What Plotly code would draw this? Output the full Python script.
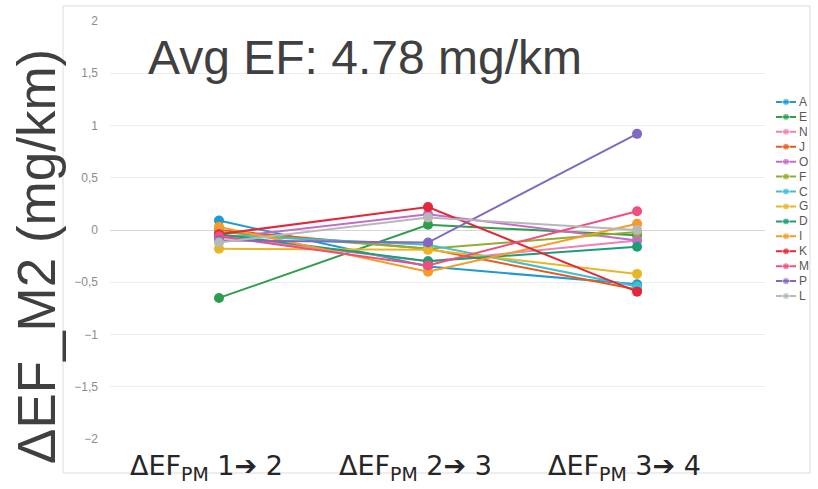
import plotly.graph_objects as go

categories = ["ΔEF<sub>PM</sub> 1➔ 2", "ΔEF<sub>PM</sub> 2➔ 3", "ΔEF<sub>PM</sub> 3➔ 4"]
series_names = ["A", "E", "N", "J", "O", "F", "C", "G", "D", "I", "K", "M", "P", "L"]
A = [0.09, -0.35, -0.52]
E = [-0.65, 0.05, -0.05]
N = [-0.06, -0.30, -0.10]
J = [0.00, -0.18, -0.57]
O = [-0.08, 0.15, -0.10]
F = [-0.02, -0.18, -0.02]
C = [-0.05, -0.14, -0.54]
G = [-0.18, -0.19, -0.42]
D = [-0.04, -0.30, -0.16]
I = [0.03, -0.40, 0.06]
K = [-0.04, 0.22, -0.59]
M = [-0.06, -0.34, 0.18]
P = [-0.10, -0.12, 0.92]
L = [-0.12, 0.12, 0.00]
series_values = [A, E, N, J, O, F, C, G, D, I, K, M, P, L]
colors = ["#1f9bd1", "#2f9e4c", "#f27fb8", "#e85a1e", "#c56cc9", "#8fae2e", "#3ec0d0",
          "#e8b625", "#1b9e78", "#f39c2c", "#e3283a", "#ee4f7e", "#8069c2", "#b8b8b8"]
y_ticks = [2, 1.5, 1, 0.5, 0, -0.5, -1, -1.5, -2]

W, H = 818, 489
FONT = "Liberation Sans, Arial, sans-serif"

fig = go.Figure()
for name, vals, col in zip(series_names, series_values, colors):
    fig.add_trace(go.Scatter(
        x=categories, y=vals, name=name, mode="lines+markers",
        line=dict(color=col, width=2), marker=dict(color=col, size=10),
        showlegend=False, xaxis="x", yaxis="y"))

px = lambda v: v / W
py = lambda v: 1 - v / H

# category labels (slightly left of the points, as in the reference)
for cat in categories:
    fig.add_annotation(x=cat, y=py(467), xref="x", yref="paper", text=cat, showarrow=False,
                       xanchor="center", yanchor="middle", xshift=-13,
                       font=dict(family="DejaVu Sans, sans-serif", size=27, color="#262626"))

# custom compact legend
for i, (name, col) in enumerate(zip(series_names, colors)):
    fig.add_trace(go.Scatter(
        x=[0, 0.5, 1], y=[i, i, i], mode="lines+markers",
        line=dict(color=col, width=2), marker=dict(color=col, size=[0, 7, 0]),
        showlegend=False, xaxis="x2", yaxis="y2", hoverinfo="skip"))
    fig.add_annotation(x=px(797), y=i, xref="paper", yref="y2", text=name, showarrow=False,
                       xanchor="left", yanchor="middle",
                       font=dict(family=FONT, size=12, color="#595959"))

fig.update_layout(
    width=W, height=H, margin=dict(l=0, r=0, t=0, b=0),
    paper_bgcolor="white", plot_bgcolor="white",
    separators=",.",
    xaxis=dict(domain=[px(110), px(765)], type="category", range=[-0.5215, 2.612],
               automargin=False, showticklabels=False,
               showgrid=False, zeroline=False, showline=False, ticks=""),
    yaxis=dict(domain=[py(439), py(21)], range=[-2, 2], tickvals=y_ticks,
               automargin=False,
               showgrid=True, gridcolor="#ededed", gridwidth=1,
               zeroline=True, zerolinecolor="#d6d6d6", zerolinewidth=1,
               showline=False, ticks="",
               tickfont=dict(family=FONT, size=12, color="#8c8c8c"), ticklabelstandoff=11),
    xaxis2=dict(domain=[px(776), px(796)], range=[0, 1], visible=False, anchor="y2",
                automargin=False),
    yaxis2=dict(domain=[py(303.5), py(94.5)], range=[13.5, -0.5], visible=False, anchor="x2",
                automargin=False),
    shapes=[dict(type="rect", xref="paper", yref="paper", x0=px(63), x1=px(810),
                 y0=py(473), y1=py(6), line=dict(color="#dcdcdc", width=1),
                 fillcolor="rgba(0,0,0,0)", layer="below")],
)

fig.add_annotation(x=px(36), y=py(257), xref="paper", yref="paper", text="ΔEF_M2 (mg/km)",
                   textangle=-90, showarrow=False, xanchor="center", yanchor="middle",
                   font=dict(family=FONT, size=53, color="#404040"))
fig.add_annotation(x=px(146), y=py(57), xref="paper", yref="paper", text="Avg EF: 4.78 mg/km",
                   showarrow=False, xanchor="left", yanchor="middle",
                   font=dict(family=FONT, size=48, color="#404040"))

fig.write_html("out.html")
